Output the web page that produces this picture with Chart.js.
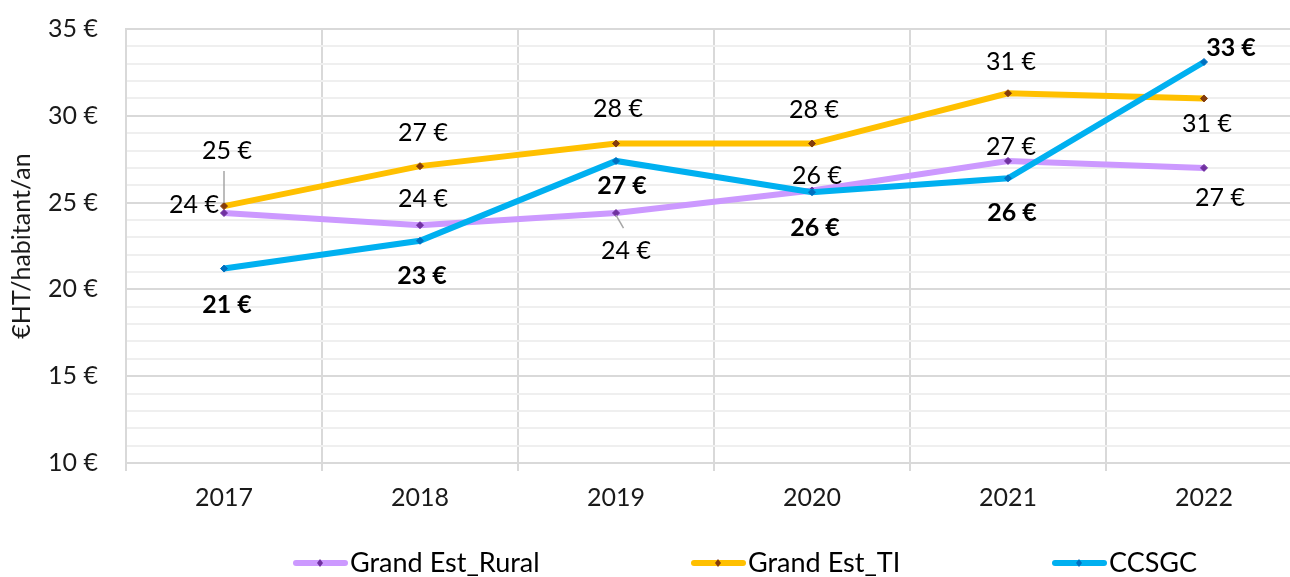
<!DOCTYPE html>
<html>
<head>
<meta charset="utf-8">
<script src="https://cdn.jsdelivr.net/npm/chart.js@4.4.1/dist/chart.umd.min.js"></script>
<style>
  html, body { margin: 0; padding: 0; background: #fff; overflow: hidden; }
  #wrap { width: 1290px; height: 577px; overflow: hidden; }
</style>
</head>
<body>
<div id="wrap"><canvas id="costChart" width="1310" height="577"></canvas></div>
<script>
// values (€HT / habitant / an)
const years = ['2017', '2018', '2019', '2020', '2021', '2022'];
const ruralValues = [24.4, 23.7, 24.4, 25.7, 27.4, 27.0];
const tiValues = [24.8, 27.1, 28.4, 28.4, 31.3, 31.0];
const ccsgcValues = [21.2, 22.8, 27.4, 25.6, 26.4, 33.1];
const seriesNames = ['Grand Est_Rural', 'Grand Est_TI', 'CCSGC'];

// where each value label sits relative to its point (px)
const labelOffsets = [
    [[-30, -8], [3, -26], [10, 38], [5, -15], [3, -14], [16, 30]],
    [[3, -55], [3, -33], [2, -35], [2, -34], [3, -31], [3, 25]],
    [[3, 36], [2, 35], [6, 25], [3, 36], [4, 35], [27, -14]]
];
// labels joined to their point by a thin grey line
const leaders = { '1-0': true, '0-2': true };
// left edge of each legend entry
const legendStarts = [293, 691, 1052];

const FONT = 'Lato';

const valueLabels = {
    id: 'valueLabels',
    afterDatasetsDraw(chart) {
        const ctx = chart.ctx;
        ctx.save();
        ctx.textAlign = 'center';
        ctx.textBaseline = 'middle';
        chart.data.datasets.forEach((ds, i) => {
            const meta = chart.getDatasetMeta(i);
            ctx.font = (i === 2 ? 'bold ' : '') + '25px ' + FONT;
            meta.data.forEach((pt, j) => {
                const off = labelOffsets[i][j];
                const lx = pt.x + off[0];
                const ly = pt.y + off[1];
                if (leaders[i + '-' + j]) {
                    ctx.strokeStyle = '#a6a6a6';
                    ctx.lineWidth = 1.5;
                    ctx.beginPath();
                    if (off[1] < 0) {
                        ctx.moveTo(pt.x, ly + 20);
                        ctx.lineTo(pt.x, pt.y - 3);
                    } else {
                        ctx.moveTo(pt.x, pt.y + 2);
                        ctx.lineTo(pt.x + off[0] * 0.75, ly - 23);
                    }
                    ctx.stroke();
                }
                ctx.fillStyle = '#000';
                ctx.fillText(Math.round(ds.data[j]) + ' €', lx, ly);
            });
        });
        ctx.restore();
    }
};

// legend drawn as line samples with a diamond marker, like the original
const lineLegend = {
    id: 'lineLegend',
    afterDraw(chart) {
        const ctx = chart.ctx;
        const y = chart.height - 14;
        ctx.save();
        ctx.font = '27px ' + FONT;
        ctx.textBaseline = 'middle';
        chart.data.datasets.forEach((ds, i) => {
            const x = legendStarts[i];
            ctx.strokeStyle = ds.borderColor;
            ctx.lineWidth = 6;
            ctx.lineCap = 'round';
            ctx.beginPath();
            ctx.moveTo(x + 3, y);
            ctx.lineTo(x + 52, y);
            ctx.stroke();
            ctx.fillStyle = ds.pointBackgroundColor;
            ctx.beginPath();
            ctx.moveTo(x + 27, y - 4);
            ctx.lineTo(x + 30, y);
            ctx.lineTo(x + 27, y + 4);
            ctx.lineTo(x + 24, y);
            ctx.closePath();
            ctx.fill();
            ctx.fillStyle = '#000';
            ctx.fillText(ds.label, x + 57, y);
        });
        ctx.restore();
    }
};

function makeSeries(label, data, color, marker, order) {
    return {
        label: label,
        data: data,
        borderColor: color,
        borderWidth: 6,
        tension: 0,
        pointStyle: 'rectRot',
        pointRadius: 3.5,
        pointBackgroundColor: marker,
        pointBorderColor: marker,
        pointBorderWidth: 1,
        order: order
    };
}

const ctx = document.getElementById('costChart').getContext('2d');
const costChart = new Chart(ctx, {
    type: 'line',
    data: {
        labels: years,
        datasets: [
            makeSeries(seriesNames[0], ruralValues, '#cc99ff', '#7030a0', 3),
            makeSeries(seriesNames[1], tiValues, '#ffc000', '#843c0c', 2),
            makeSeries(seriesNames[2], ccsgcValues, '#00b0f0', '#0070c0', 1)
        ]
    },
    options: {
        responsive: false,
        animation: false,
        devicePixelRatio: 1,
        layout: { padding: { top: 29, right: 8, bottom: 64, left: 0 } },
        scales: {
            x: {
                offset: true,
                grid: { offset: true, color: '#d9d9d9', lineWidth: 2, tickLength: 8 },
                border: { color: '#d9d9d9', width: 2 },
                ticks: { font: { family: FONT, size: 25 }, color: '#1a1a1a', padding: 12 },
                afterFit(scale) { scale.height = 50; }
            },
            y: {
                min: 10,
                max: 35,
                grid: {
                    drawTicks: false,
                    lineWidth: 2,
                    color: c => (c.tick && c.tick.value % 5 === 0) ? '#d9d9d9' : '#efefef'
                },
                border: { color: '#d9d9d9', width: 2 },
                ticks: {
                    stepSize: 1,
                    maxTicksLimit: 40,
                    autoSkip: false,
                    padding: 28,
                    font: { family: FONT, size: 25 },
                    color: '#1a1a1a',
                    callback: v => v % 5 === 0 ? v + ' €' : ''
                },
                title: {
                    display: true,
                    text: '€HT/habitant/an',
                    font: { family: FONT, size: 25 },
                    color: '#1a1a1a',
                    padding: { top: 7, bottom: 0 }
                },
                afterFit(scale) {
                    scale.width = 126;
                    scale.paddingTop = 0;
                    scale.paddingBottom = 0;
                }
            }
        },
        plugins: {
            legend: { display: false },
            tooltip: { enabled: false }
        }
    },
    plugins: [valueLabels, lineLegend]
});
</script>
</body>
</html>
